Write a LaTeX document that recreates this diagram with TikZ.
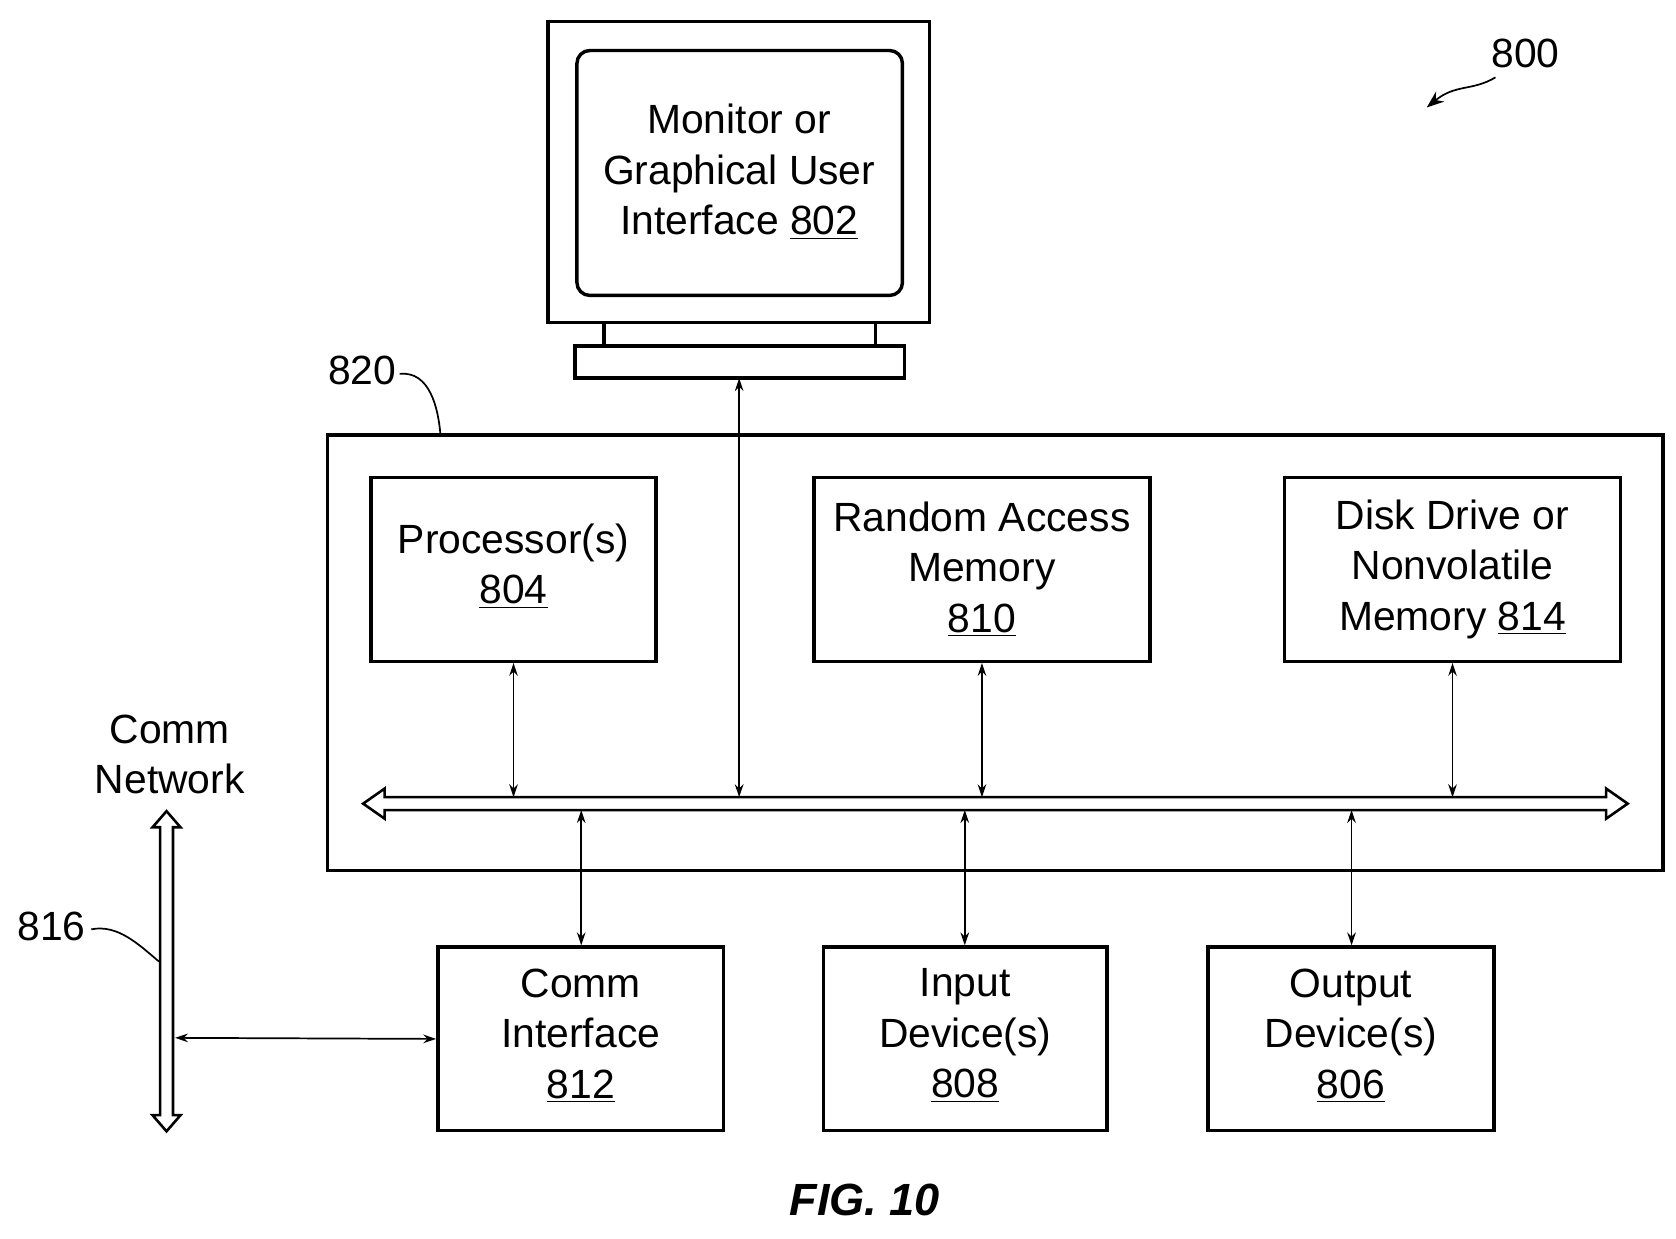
\documentclass[tikz,border=0pt]{standalone}
\usepackage{fontspec}
\setmainfont{Liberation Sans}
\usetikzlibrary{arrows.meta,decorations.pathmorphing}
\begin{document}
\begin{tikzpicture}[x=0.5pt,y=-0.5pt,
 box/.style={draw,line width=1.6pt},
 lbl/.style={font=\fontsize{19}{23.5}\selectfont,align=center},
 conn/.style={line width=0.8pt,{Stealth[open,length=6pt,width=4pt]}-{Stealth[open,length=6pt,width=4pt]}},
 sq/.style={line width=0.8pt}]
\useasboundingbox (0,0) rectangle (1560,1153);
% monitor
\draw[box] (510,20) rectangle (865,300);
\draw[box,rounded corners=6pt] (537,47) rectangle (840,275);
\node[lbl] (mon) at (688,160) {Monitor or\\Graphical User\\Interface \underline{802}};
\draw[box] (562,300) rectangle (815,322);
\draw[box] (535,322) rectangle (842,352);
\coordinate (stand) at (688,352);
% 800
\node[lbl] (l800) at (1420,50) {800};
\coordinate (a800) at (1328,100);
\draw[sq,-{Stealth[length=8pt]}] (1392,72) .. controls (1370,85) and (1355,78) .. (a800);
% big box
\draw[box] (305,405) rectangle (1548,810);
\node[lbl] (l820) at (337,345) {820};
\draw[sq] (372,348) .. controls (400,345) and (408,380) .. (410,405);
% inner boxes
\node[box,minimum width=132.5pt,minimum height=85.5pt] (proc) at (478,530) {};
\node[lbl] at (478,527) {Processor(s)\\\underline{804}};
\node[box,minimum width=156.5pt,minimum height=85.5pt] (ram) at (914,530) {};
\node[lbl] at (914,530) {Random Access\\Memory\\\underline{810}};
\node[box,minimum width=156.5pt,minimum height=85.5pt] (disk) at (1352,530) {};
\node[lbl] at (1352,530) {Disk Drive or\\Nonvolatile\\Memory \underline{814}};
% bus
\draw[line width=1.2pt] (338,748) -- (358,734) -- (358,742) -- (1495,742) -- (1495,734) -- (1515,748) -- (1495,762) -- (1495,754) -- (358,754) -- (358,762) -- cycle;
\coordinate (bp) at (478,742); \coordinate (bm) at (688,742);
\coordinate (br) at (914,742); \coordinate (bd) at (1352,742);
\coordinate (bc) at (541,754); \coordinate (bi) at (898,754); \coordinate (bo) at (1258,754);
\draw[conn] (proc.south) -- (bp);
\draw[conn] (stand) -- (bm);
\draw[conn] (ram.south) -- (br);
\draw[conn] (disk.south) -- (bd);
% bottom boxes
\node[box,minimum width=133pt,minimum height=85.5pt] (comm) at (540.5,967) {};
\node[lbl] at (540.5,964) {Comm\\Interface\\\underline{812}};
\node[box,minimum width=132pt,minimum height=85.5pt] (inp) at (898.5,967) {};
\node[lbl] at (898.5,964) {Input\\Device(s)\\\underline{808}};
\node[box,minimum width=133pt,minimum height=85.5pt] (out) at (1257.5,967) {};
\node[lbl] at (1257.5,964) {Output\\Device(s)\\\underline{806}};
\draw[conn] (bc) -- (comm.north -| bc);
\draw[conn] (bi) -- (inp.north -| bi);
\draw[conn] (bo) -- (out.north -| bo);
% network
\node[lbl] (net) at (158,702) {Comm\\Network};
\draw[line width=1.2pt] (155,755) -- (168,770) -- (161,770) -- (161,1038) -- (168,1038) -- (155,1053) -- (142,1038) -- (149,1038) -- (149,770) -- (142,770) -- cycle;
\coordinate (nw) at (163,966);
\draw[conn] (nw) -- (comm.west);
\node[lbl] (l816) at (48,862) {816};
\draw[sq] (85,865) .. controls (110,860) and (130,880) .. (148,895);
\node[font=\fontsize{21}{25}\selectfont\bfseries\itshape] (fig) at (805,1117) {FIG. 10};
\end{tikzpicture}
\end{document}
